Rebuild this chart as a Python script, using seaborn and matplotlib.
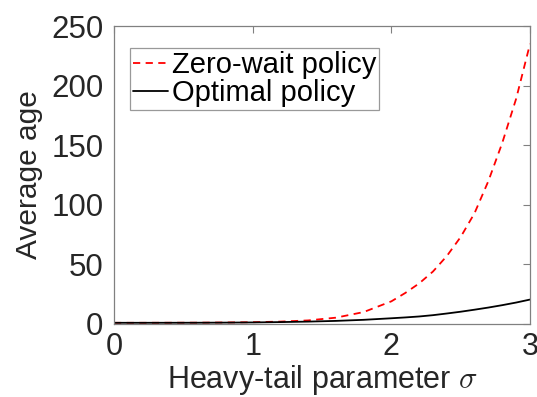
import numpy as np
import pandas as pd
import matplotlib
matplotlib.use("Agg")
import matplotlib.pyplot as plt
import seaborn as sns

sigma = [0.0, 0.2, 0.4, 0.6, 0.8, 1.0, 1.2, 1.4, 1.6, 1.8, 2.0, 2.1, 2.2, 2.3, 2.4, 2.5, 2.6, 2.7, 2.8, 2.9, 3.0]
zero_wait = [1.0, 1.0, 1.05, 1.1, 1.25, 1.5, 2.0, 3.0, 5.3, 10.0, 19.0, 26.0, 34.0, 44.0, 57.0, 73.0, 93.0, 120.0, 152.0, 189.0, 235.0]
optimal = [1.0, 1.0, 1.02, 1.05, 1.15, 1.3, 1.6, 2.0, 2.6, 3.5, 4.8, 5.5, 6.3, 7.4, 8.8, 10.3, 12.0, 13.8, 15.8, 18.0, 20.5]
series_names = ["Zero-wait policy", "Optimal policy"]
xticks = [0, 1, 2, 3]
yticks = [0, 50, 100, 150, 200, 250]

df = pd.DataFrame({
    "sigma": sigma * 2,
    "age": zero_wait + optimal,
    "policy": [series_names[0]] * len(sigma) + [series_names[1]] * len(sigma),
})

sns.set_theme(style="white")
plt.rcParams["font.family"] = ["Liberation Sans", "DejaVu Sans"]
plt.rcParams["mathtext.fontset"] = "cm"

txt = "#262626"
fig = plt.figure(figsize=(5.37, 3.97), dpi=100)
ax = fig.add_axes([0.2123, 0.1839, 0.7747, 0.7506])

sns.lineplot(data=df, x="sigma", y="age", hue="policy", style="policy",
             palette={series_names[0]: "#ff0000", series_names[1]: "#000000"},
             dashes={series_names[0]: (4, 3), series_names[1]: ""},
             linewidth=1.3, ax=ax, legend=True)

ax.set_xlim(0, 3)
ax.set_ylim(0, 250)
ax.set_xticks(xticks)
ax.set_yticks(yticks)
ax.set_xticklabels([str(t) for t in xticks])
ax.set_yticklabels([str(t) for t in yticks])
ax.tick_params(direction="in", length=5, width=0.8, color="#808080",
               top=True, right=True, labelcolor=txt)
ax.tick_params(axis="x", labelsize=22, pad=6)
ax.tick_params(axis="y", labelsize=22.5, pad=7.5)
for s in ax.spines.values():
    s.set_color("#808080")
    s.set_linewidth(0.9)
ax.set_xlabel(r"Heavy-tail parameter $\sigma$", fontsize=22, color=txt, labelpad=0.3)
ax.set_ylabel("Average age", fontsize=21.5, color=txt, labelpad=6)

leg = ax.legend(loc="upper left", bbox_to_anchor=(0.038, 0.925), fontsize=21,
                frameon=True, fancybox=False, handlelength=1.2, handletextpad=0.15,
                borderpad=0.1, labelspacing=0.0, borderaxespad=0)
leg.get_frame().set_edgecolor("#808080")
leg.get_frame().set_linewidth(0.9)
for t in leg.get_texts():
    t.set_color("#000000")

fig.savefig("out.png", dpi=100)
